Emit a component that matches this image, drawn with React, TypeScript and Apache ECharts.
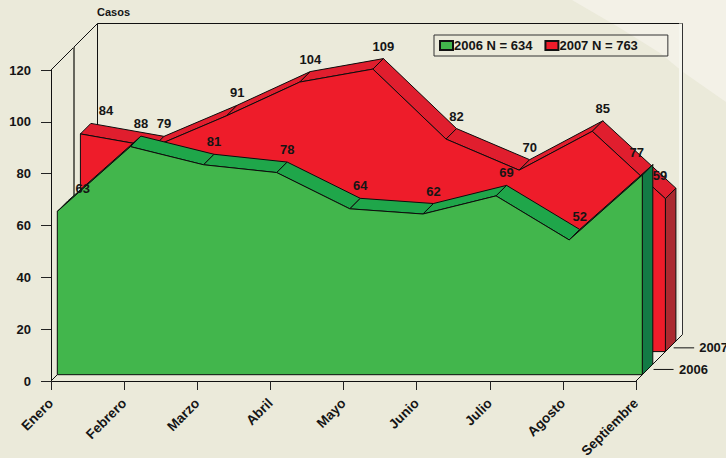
import React, { useEffect, useRef } from "react";
import * as echarts from "echarts";

const categories = ["Enero", "Febrero", "Marzo", "Abril", "Mayo", "Junio", "Julio", "Agosto", "Septiembre"];
const values2006 = [63, 88, 81, 78, 64, 62, 69, 52, 77];
const values2007 = [84, 79, 91, 104, 109, 82, 70, 85, 59];
const name2006 = "2006 N = 634";
const name2007 = "2007 N = 763";
const depthLabels = ["2006", "2007"];

const FONT = "'Liberation Sans', Arial, sans-serif";
const INK = "#151515";
const WALL = 46.5;
const GREEN_D: [number, number] = [6.3, 16.8];
const RED_D: [number, number] = [29.4, 39.9];

function off(p: number[], d: number): number[] {
  return [p[0] + d, p[1] - d];
}

function areaRenderer(values: number[], depth: [number, number], front: string, top: string, side: string) {
  return (params: any, api: any) => {
    const i = params.dataIndex;
    const last = values.length - 1;
    const children: any[] = [];
    const line = { stroke: "#0c0c0c", lineWidth: 1 };
    if (i < last) {
      const a = api.coord([i, values[i]]);
      const b = api.coord([i + 1, values[i + 1]]);
      children.push({
        type: "polygon",
        shape: { points: [off(a, depth[0]), off(b, depth[0]), off(b, depth[1]), off(a, depth[1])] },
        style: { fill: top, ...line },
      });
    } else {
      const end = api.coord([last, values[last]]);
      const base = api.coord([last, 0]);
      children.push({
        type: "polygon",
        shape: { points: [off(end, depth[0]), off(end, depth[1]), off(base, depth[1]), off(base, depth[0])] },
        style: { fill: side, ...line },
      });
      const pts: number[][] = [off(api.coord([0, 0]), depth[0])];
      values.forEach((v, k) => pts.push(off(api.coord([k, v]), depth[0])));
      pts.push(off(base, depth[0]));
      children.push({ type: "polygon", shape: { points: pts }, style: { fill: front, ...line } });
    }
    return { type: "group", children };
  };
}

function labelRenderer(values: number[], depth: [number, number]) {
  return (params: any, api: any) => {
    const i = params.dataIndex;
    const p = off(api.coord([i, values[i]]), depth[1]);
    const shift = i === 0 ? 15 : i === values.length - 1 ? -16 : 0;
    return {
      type: "text",
      x: p[0] + shift,
      y: p[1] - 12.5,
      style: {
        text: String(values[i]),
        fill: INK,
        font: `bold 13px ${FONT}`,
        align: "center",
        verticalAlign: "middle",
      },
    };
  };
}

function frameRenderer(params: any, api: any) {
  const o = api.coord([0, 0]);
  const t = api.coord([0, 120]);
  const r = api.coord([categories.length - 1, 0]);
  const rt = api.coord([categories.length - 1, 120]);
  const seg = (a: number[], b: number[], stroke = "#111", lineWidth = 1) => ({
    type: "line",
    shape: { x1: a[0], y1: a[1], x2: b[0], y2: b[1] },
    style: { stroke, lineWidth },
  });
  const children: any[] = [
    {
      type: "polygon",
      shape: { points: [off(o, GREEN_D[0]), off(r, GREEN_D[0]), off(r, WALL), off(o, WALL)] },
      style: { fill: "#EFEEE2", stroke: "none" },
    },
    seg(t, off(t, WALL)),
    seg(off(t, WALL), off(rt, WALL)),
    seg(off(t, WALL), off(o, WALL)),
    seg([off(rt, WALL)[0] - 2, off(rt, WALL)[1]], [off(r, WALL)[0] - 2, off(r, WALL)[1]], "#F6F6EE", 3),
    seg(off(rt, WALL), off(r, WALL), "#333"),
    seg(off(t, 23), off(o, 23), "#66665c", 2),
    seg(o, off(o, GREEN_D[0])),
    seg(r, off(r, WALL)),
  ];
  const tickSpecs = [
    { from: 6, to: 26, text: 31.5, dy: 0 },
    { from: 3, to: 23.5, text: 28.5, dy: 1.5 },
  ];
  [GREEN_D, RED_D].forEach((d, k) => {
    const mid = (d[0] + d[1]) / 2;
    const q = off(r, mid);
    const s = tickSpecs[k];
    const y = q[1] + s.dy;
    children.push(seg([q[0] + s.from, y], [q[0] + s.to, y]));
    children.push({
      type: "text",
      x: q[0] + s.text,
      y,
      style: {
        text: depthLabels[k],
        fill: INK,
        font: `bold 13px ${FONT}`,
        align: "left",
        verticalAlign: "middle",
      },
    });
  });
  return { type: "group", children };
}

export default function App() {
  const ref = useRef<HTMLDivElement>(null);
  useEffect(() => {
    const chart = echarts.init(ref.current!, undefined, { renderer: "svg" });
    const pts = (vals: number[]) => vals.map((v, i) => [i, v]);
    chart.setOption({
      animation: false,
      backgroundColor: "#EBEADA",
      graphic: [
        {
          type: "polygon",
          shape: { points: [[572, 0], [726, 0], [726, 102], [683, 72], [660, 53], [620, 28]] },
          style: { fill: "#F3F1E7" },
          silent: true,
        },
      ],
      grid: { left: 51, right: 90, top: 70, bottom: 77, containLabel: false, outerBoundsMode: "none" },
      legend: {
        left: 434,
        top: 35,
        padding: [4, 30, 4, 5],
        itemGap: 12,
        itemWidth: 13,
        itemHeight: 9,
        icon: "rect",
        borderColor: "#333",
        borderWidth: 1,
        data: [name2006, name2007],
        textStyle: {
          fontFamily: FONT,
          fontWeight: "bold",
          fontSize: 13,
          lineHeight: 13,
          color: INK,
          padding: [0, 0, 0, -4],
        },
      },
      xAxis: {
        type: "category",
        boundaryGap: false,
        data: categories,
        axisLine: { lineStyle: { color: "#111", width: 1 } },
        axisTick: { length: 9, lineStyle: { color: "#222", width: 1 }, alignWithLabel: true },
        axisLabel: {
          interval: 0,
          rotate: 45,
          margin: 20,
          fontFamily: FONT,
          fontWeight: "bold",
          fontSize: 13.6,
          color: INK,
        },
      },
      yAxis: {
        type: "value",
        min: 0,
        max: 120,
        interval: 20,
        name: "Casos",
        nameLocation: "end",
        nameGap: 52,
        nameTextStyle: {
          fontFamily: FONT,
          fontWeight: "bold",
          fontSize: 11,
          color: INK,
          align: "left",
          padding: [0, 0, 1, 46],
        },
        splitLine: { show: false },
        axisLine: { show: true, lineStyle: { color: "#111", width: 1 } },
        axisTick: { show: true, length: 10, lineStyle: { color: "#222", width: 1 } },
        axisLabel: { margin: 20, fontFamily: FONT, fontWeight: "bold", fontSize: 13, color: INK },
      },
      series: [
        {
          type: "custom",
          name: "frame",
          data: [[0, 0]],
          z: 1,
          silent: true,
          renderItem: frameRenderer,
          clip: false,
        },
        {
          type: "custom",
          name: name2007,
          data: pts(values2007),
          encode: { x: 0, y: 1 },
          z: 2,
          clip: false,
          itemStyle: { color: "#EE1C2A", borderColor: "#111", borderWidth: 1 },
          renderItem: areaRenderer(values2007, RED_D, "#EE1C2A", "#E01E2E", "#AB2A30"),
        },
        {
          type: "custom",
          name: name2006,
          data: pts(values2006),
          encode: { x: 0, y: 1 },
          z: 3,
          clip: false,
          itemStyle: { color: "#42B64C", borderColor: "#111", borderWidth: 1 },
          renderItem: areaRenderer(values2006, GREEN_D, "#42B64C", "#1FA64A", "#137A45"),
        },
        {
          type: "custom",
          name: "labels2007",
          data: pts(values2007),
          encode: { x: 0, y: 1 },
          z: 5,
          clip: false,
          renderItem: labelRenderer(values2007, RED_D),
        },
        {
          type: "custom",
          name: "labels2006",
          data: pts(values2006),
          encode: { x: 0, y: 1 },
          z: 5,
          clip: false,
          renderItem: labelRenderer(values2006, GREEN_D),
        },
      ],
    });
    return () => chart.dispose();
  }, []);
  return <div ref={ref} style={{ position: "fixed", left: 0, top: 0, width: 726, height: 458 }} />;
}
